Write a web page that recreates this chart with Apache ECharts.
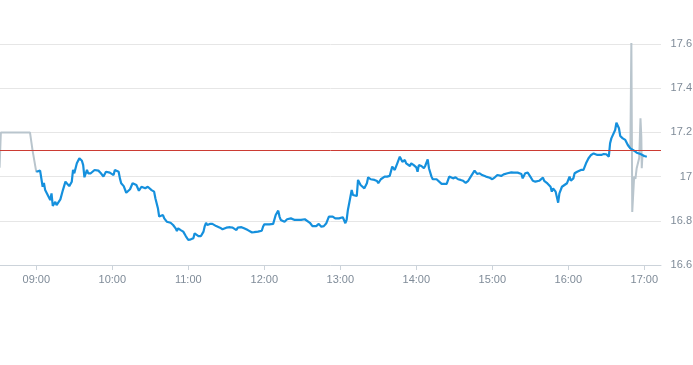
<!DOCTYPE html>
<html>
<head>
<meta charset="utf-8">
<script src="https://cdn.jsdelivr.net/npm/echarts@6/dist/echarts.min.js"></script>
<style>html,body{margin:0;padding:0;background:#fff}#c{width:693px;height:365px}</style>
</head>
<body>
<div id="c"></div>
<script>
var DAY = '2024-01-02 ';
var axisMin = '08:31:20';
var axisMax = '17:13:12';
var prevClose = 17.12;
var yTicks = [16.6, 16.8, 17, 17.2, 17.4, 17.6];

var preTimes = ['08:31','08:32','08:55','08:57','09:00'];
var preValues = [17.04,17.20,17.20,17.12,17.02];

var mainTimes = ['09:00','09:03','09:04','09:05','09:06','09:07','09:09','09:10','09:11','09:12','09:13','09:15','09:16','09:17','09:19','09:21','09:23','09:24','09:26','09:28','09:29','09:30','09:32','09:33','09:34','09:36','09:37','09:38','09:40','09:41','09:42','09:43','09:46','09:49','09:51','09:53','09:55','09:58','09:59','10:01','10:02','10:05','10:06','10:07','10:09','10:11','10:14','10:16','10:19','10:21','10:23','10:26','10:28','10:31','10:33','10:34','10:36','10:37','10:38','10:40','10:41','10:43','10:44','10:46','10:48','10:50','10:51','10:52','10:54','10:56','10:58','11:00','11:02','11:04','11:05','11:06','11:08','11:10','11:12','11:13','11:14','11:15','11:17','11:19','11:22','11:25','11:27','11:30','11:33','11:35','11:38','11:39','11:42','11:44','11:47','11:50','11:52','11:55','11:58','11:59','12:00','12:04','12:07','12:09','12:11','12:12','12:13','12:16','12:18','12:21','12:24','12:26','12:29','12:32','12:33','12:36','12:38','12:41','12:43','12:45','12:47','12:49','12:51','12:54','12:56','12:59','13:02','13:04','13:05','13:06','13:08','13:09','13:10','13:13','13:14','13:16','13:17','13:19','13:21','13:22','13:24','13:27','13:29','13:30','13:32','13:35','13:37','13:39','13:41','13:43','13:44','13:45','13:47','13:49','13:51','13:52','13:53','13:55','13:56','13:58','14:00','14:01','14:02','14:04','14:06','14:07','14:09','14:10','14:12','14:13','14:16','14:17','14:20','14:22','14:24','14:26','14:27','14:29','14:31','14:33','14:35','14:37','14:39','14:41','14:43','14:44','14:46','14:48','14:50','14:52','14:55','14:58','15:00','15:02','15:04','15:07','15:09','15:12','15:15','15:17','15:20','15:23','15:24','15:26','15:28','15:29','15:30','15:32','15:34','15:37','15:40','15:41','15:43','15:44','15:46','15:47','15:48','15:50','15:51','15:52','15:53','15:55','15:57','15:59','16:01','16:02','16:04','16:05','16:07','16:08','16:10','16:12','16:14','16:15','16:16','16:18','16:20','16:21','16:23','16:24','16:26','16:28','16:30','16:32','16:33','16:34','16:35','16:37','16:38','16:40','16:41','16:43','16:45','16:47','16:49','16:52','16:54','16:57','17:00','17:02'];
var mainValues = [17.022,17.027,17.022,16.954,16.971,16.939,16.917,16.924,16.894,16.924,16.867,16.886,16.871,16.876,16.897,16.939,16.977,16.977,16.957,16.977,17.030,17.015,17.060,17.067,17.083,17.072,17.052,16.997,17.030,17.015,17.022,17.015,17.030,17.027,17.015,17.000,17.022,17.018,17.027,17.007,17.030,17.022,16.992,16.970,16.957,16.927,16.943,16.970,16.962,16.936,16.954,16.947,16.954,16.939,16.932,16.902,16.857,16.819,16.819,16.826,16.811,16.796,16.799,16.791,16.781,16.766,16.754,16.766,16.758,16.751,16.731,16.713,16.716,16.721,16.743,16.736,16.731,16.731,16.751,16.776,16.791,16.781,16.786,16.786,16.776,16.769,16.762,16.769,16.771,16.769,16.758,16.769,16.771,16.766,16.758,16.748,16.749,16.751,16.755,16.773,16.784,16.784,16.786,16.826,16.846,16.819,16.804,16.796,16.807,16.811,16.804,16.804,16.804,16.807,16.804,16.791,16.776,16.776,16.786,16.773,16.776,16.789,16.819,16.819,16.811,16.811,16.816,16.789,16.804,16.849,16.909,16.939,16.917,16.912,16.985,16.962,16.970,16.947,16.970,16.997,16.988,16.985,16.980,16.970,16.988,17.000,17.000,17.003,17.045,17.030,17.038,17.060,17.090,17.067,17.075,17.060,17.060,17.048,17.060,17.052,17.042,17.022,17.052,17.048,17.038,17.048,17.078,17.038,17.000,16.988,16.988,16.981,16.967,16.967,16.967,17.000,16.997,16.992,16.997,16.988,16.985,16.981,16.972,16.981,17.000,16.997,17.027,17.012,17.015,17.007,17.000,16.995,16.988,16.997,17.007,17.003,17.010,17.015,17.019,17.018,17.018,17.012,16.992,17.015,17.018,17.015,17.000,16.981,16.977,16.981,16.995,16.981,16.972,16.977,16.954,16.932,16.947,16.932,16.939,16.882,16.924,16.954,16.962,16.970,17.000,16.981,16.992,17.015,17.022,17.015,17.030,17.030,17.060,17.067,17.083,17.098,17.105,17.113,17.098,17.090,17.098,17.102,17.101,17.090,17.151,17.173,17.166,17.211,17.244,17.219,17.184,17.173,17.166,17.143,17.128,17.117,17.108,17.102,17.093,17.090];

var postTimes = ['16:47','16:49','16:49:48','16:50:30','16:52','16:53','16:54','16:55','16:56','16:57','16:57:40','16:58','16:58:30','17:00'];
var postValues = [17.143,17.128,17.61,16.84,17.00,16.99,17.038,17.045,17.084,17.264,17.18,17.038,17.09,17.093];

function pairs(ts, vs) {
  return ts.map(function (t, i) { return [DAY + t, vs[i]]; });
}

var chart = echarts.init(document.getElementById('c'));
var labelColor = '#7f8b98';
chart.setOption({
  animation: false,
  grid: { left: 0, right: 32, top: 44, bottom: 100, containLabel: false, outerBoundsMode: 'none' },
  xAxis: {
    type: 'time',
    min: DAY + axisMin,
    max: DAY + axisMax,
    minInterval: 3600000,
    maxInterval: 3600000,
    axisLine: { lineStyle: { color: '#ccd3da' } },
    axisTick: { show: true, length: 5, lineStyle: { color: '#ccd3da' } },
    splitLine: { show: false },
    axisLabel: {
      formatter: '{HH}:{mm}',
      color: labelColor,
      fontSize: 11,
      fontFamily: 'Liberation Sans, Arial, sans-serif',
      margin: 9,
      showMinLabel: false,
      showMaxLabel: false
    }
  },
  yAxis: {
    type: 'value',
    position: 'right',
    min: yTicks[0],
    max: yTicks[yTicks.length - 1],
    interval: 0.2,
    axisLine: { show: false },
    axisTick: { show: false },
    splitLine: { lineStyle: { color: '#e6e6e6' } },
    axisLabel: {
      color: labelColor,
      fontSize: 11,
      fontFamily: 'Liberation Sans, Arial, sans-serif',
      align: 'right',
      margin: 31
    }
  },
  series: [
    {
      type: 'line', data: pairs(preTimes, preValues), showSymbol: false,
      lineStyle: { color: '#b9c5cd', width: 2 }, z: 2
    },
    {
      type: 'line', data: pairs(postTimes, postValues), showSymbol: false,
      lineStyle: { color: '#b9c5cd', width: 2 }, z: 2
    },
    {
      type: 'line', data: pairs(mainTimes, mainValues), showSymbol: false,
      lineStyle: { color: '#1590dd', width: 2.2 }, z: 3,
      markLine: {
        symbol: 'none', silent: true, label: { show: false },
        lineStyle: { color: '#cc3b33', width: 1, type: 'solid' },
        data: [{ yAxis: prevClose }]
      }
    }
  ]
});
</script>
</body>
</html>
